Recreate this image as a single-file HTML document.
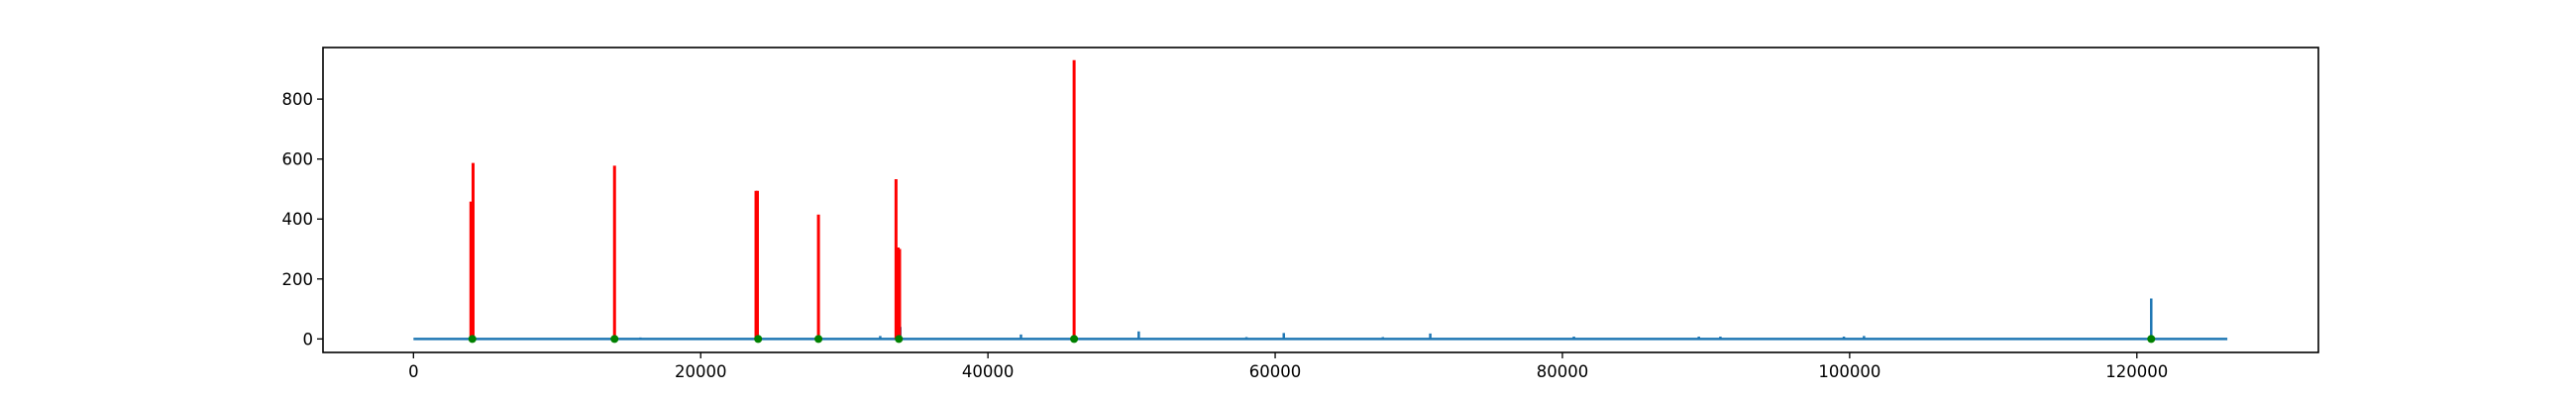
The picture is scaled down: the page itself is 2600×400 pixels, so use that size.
<!DOCTYPE html>
<html><head><meta charset="utf-8"><style>
html,body{margin:0;padding:0;background:#fff;}
svg{display:block;}
text{font-family:"DejaVu Sans","Liberation Sans",sans-serif;font-size:16.5px;fill:#000;}
</style></head><body>
<svg id="chart" width="2600" height="400" viewBox="0 0 2600 400" xmlns="http://www.w3.org/2000/svg">
<rect x="0" y="0" width="2600" height="400" fill="#fff"/>
<g id="plot"></g>
</svg>
<script>
const xTicks = [0, 20000, 40000, 60000, 80000, 100000, 120000];
const yTicks = [0, 200, 400, 600, 800];
const blueX = [0, 9700, 15800, 32500, 33700, 33800, 33900, 42300, 50500, 58000, 60600, 67500, 70800, 80800, 89500, 91000, 99600, 101000, 121000, 126300];
const blueY = [0, 4, 5, 10, 60, 80, 40, 15, 25, 6, 20, 6, 18, 8, 8, 8, 8, 10, 135, 0];
const redX = [4000, 4150, 14000, 23850, 23950, 28200, 33600, 33750, 33850, 46000];
const redY = [458, 587, 578, 494, 494, 415, 533, 305, 300, 930];
const dotX = [4100, 14000, 24000, 28200, 33800, 46000, 121000];
const dotY = [0, 0, 0, 0, 0, 0, 0];

const L = 326, R = 2340, T = 48, B = 356;
const xMin = -6300, xMax = 132640, yMin = -45, yMax = 972;
const sx = v => L + (v - xMin) / (xMax - xMin) * (R - L);
const sy = v => B - (v - yMin) / (yMax - yMin) * (B - T);
const NS = "http://www.w3.org/2000/svg";
const g = document.getElementById('plot');
function mk(tag, attrs, parent) {
  const e = document.createElementNS(NS, tag);
  for (const k in attrs) e.setAttribute(k, attrs[k]);
  (parent || g).appendChild(e);
  return e;
}
// blue series: baseline with narrow spikes
let d = 'M' + sx(blueX[0]) + ' ' + sy(blueY[0]);
for (let i = 1; i < blueX.length; i++) {
  const x = sx(blueX[i]);
  if (i < blueX.length - 1) {
    d += ' L' + x + ' ' + sy(0) + ' L' + x + ' ' + sy(blueY[i]) + ' L' + x + ' ' + sy(0);
  } else {
    d += ' L' + x + ' ' + sy(blueY[i]);
  }
}
const blue = mk('path', {d: d, fill: 'none', stroke: '#1f77b4', 'stroke-width': 2.5});


// red spikes
for (let i = 0; i < redX.length; i++) {
  const r = mk('line', {x1: sx(redX[i]), x2: sx(redX[i]), y1: sy(0), y2: sy(redY[i]), stroke: '#ff0000', 'stroke-width': 3});
  
  
}
// green dots
for (let i = 0; i < dotX.length; i++) {
  const c = mk('circle', {cx: sx(dotX[i]), cy: sy(dotY[i]), r: 4, fill: '#008000'});
  
  
}
// frame
const fr = mk('rect', {x: L, y: T, width: R - L, height: B - T, fill: 'none', stroke: '#000', 'stroke-width': 1.6});


// x ticks
for (let i = 0; i < xTicks.length; i++) {
  const x = sx(xTicks[i]);
  const t = mk('line', {x1: x, x2: x, y1: B, y2: B + 6, stroke: '#000', 'stroke-width': 1.3});
  
  
  const tx = mk('text', {x: x, y: B + 25, 'text-anchor': 'middle'});
  tx.textContent = String(xTicks[i]);
  
  
}
// y ticks
for (let i = 0; i < yTicks.length; i++) {
  const y = sy(yTicks[i]);
  const t = mk('line', {x1: L - 6, x2: L, y1: y, y2: y, stroke: '#000', 'stroke-width': 1.3});
  
  
  const tx = mk('text', {x: L - 10, y: y + 6, 'text-anchor': 'end'});
  tx.textContent = String(yTicks[i]);
  
  
}
</script>
</body></html>
